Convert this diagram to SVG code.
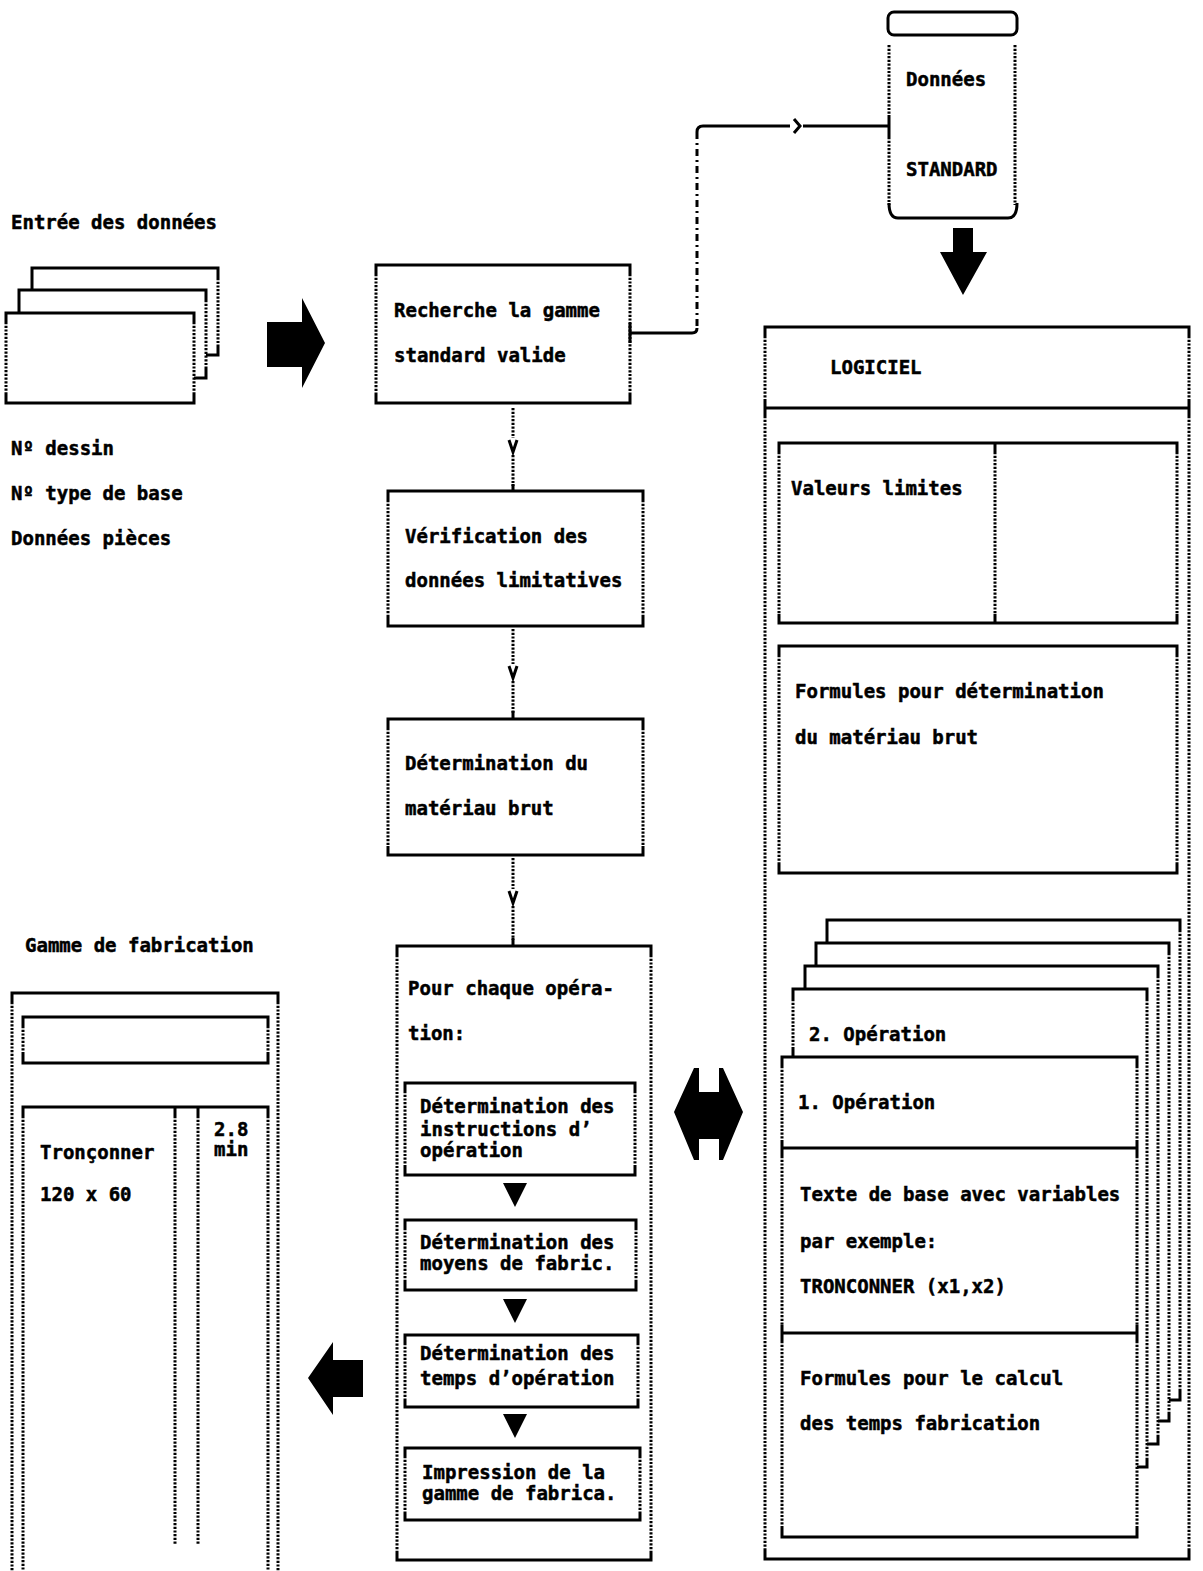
<svg xmlns="http://www.w3.org/2000/svg" width="1203" height="1571" viewBox="0 0 1203 1571">
<style>
.s{fill:none;stroke:#000;stroke-width:3;stroke-linejoin:miter}
.d{fill:none;stroke:#000;stroke-width:3;stroke-dasharray:2.2 1.5}
.dd{fill:none;stroke:#000;stroke-width:3;stroke-dasharray:7 4 2 4}
.f{fill:#000;stroke:none}
text{font-family:"DejaVu Sans Mono","Liberation Mono",monospace;font-weight:bold;font-size:19px;fill:#000;stroke:#000;stroke-width:0.5}
</style>
<rect x="0" y="0" width="1203" height="1571" fill="#fff"/>

<!-- Entrée des données -->
<g id="entree">
  <text x="11" y="229">Entrée des données</text>
  <path class="s" d="M32 290 V268 H218 V278"/>
  <path class="d" d="M218 278 V345"/>
  <path class="s" d="M218 345 V355 H206"/>
  <path class="s" d="M19 313 V290 H206 V300"/>
  <path class="d" d="M206 300 V368"/>
  <path class="s" d="M206 368 V378 H194"/>
  <path class="s" d="M6 322 V313 H194 V322 M6 394 V403 H194 V394"/>
  <path class="d" d="M6 322 V394 M194 322 V394"/>
  <text x="11" y="455">Nº dessin</text>
  <text x="11" y="500">Nº type de base</text>
  <text x="11" y="545">Données pièces</text>
</g>

<g id="arrow-right">
  <path class="f" d="M267 322 H302 V298 L325 343 L302 388 V367 H267 Z"/>
</g>

<!-- Middle column -->
<g id="recherche">
  <path class="s" d="M376 274 V265 H630 V274 M376 394 V403 H630 V394"/>
  <path class="d" d="M376 274 V394 M630 274 V394"/>
  <text x="394" y="317">Recherche la gamme</text>
  <text x="394" y="362">standard valide</text>
</g>
<g id="verification">
  <path class="s" d="M388 500 V491 H643 V500 M388 617 V626 H643 V617"/>
  <path class="d" d="M388 500 V617 M643 500 V617"/>
  <text x="405" y="543">Vérification des</text>
  <text x="405" y="587">données limitatives</text>
</g>
<g id="determination">
  <path class="s" d="M388 728 V719 H643 V728 M388 846 V855 H643 V846"/>
  <path class="d" d="M388 728 V846 M643 728 V846"/>
  <text x="405" y="770">Détermination du</text>
  <text x="405" y="815">matériau brut</text>
</g>
<g id="operation">
  <path class="s" d="M397 955 V946 H651 V955 M397 1551 V1560 H651 V1551"/>
  <path class="d" d="M397 955 V1551 M651 955 V1551"/>
  <text x="408" y="995">Pour chaque opéra-</text>
  <text x="408" y="1040">tion:</text>
  <g id="op-a">
    <path class="s" d="M405 1091 V1083 H635 V1091 M405 1167 V1175 H635 V1167"/>
    <path class="d" d="M405 1091 V1167 M635 1091 V1167"/>
    <text x="420" y="1113">Détermination des</text>
    <text x="420" y="1136">instructions d’</text>
    <text x="420" y="1157">opération</text>
  </g>
  <g id="op-b">
    <path class="s" d="M405 1228 V1220 H636 V1228 M405 1282 V1290 H636 V1282"/>
    <path class="d" d="M405 1228 V1282 M636 1228 V1282"/>
    <text x="420" y="1249">Détermination des</text>
    <text x="420" y="1270">moyens de fabric.</text>
  </g>
  <g id="op-c">
    <path class="s" d="M405 1343 V1335 H638 V1343 M405 1399 V1407 H638 V1399"/>
    <path class="d" d="M405 1343 V1399 M638 1343 V1399"/>
    <text x="420" y="1360">Détermination des</text>
    <text x="420" y="1385">temps d’opération</text>
  </g>
  <g id="op-d">
    <path class="s" d="M405 1456 V1448 H640 V1456 M405 1512 V1520 H640 V1512"/>
    <path class="d" d="M405 1456 V1512 M640 1456 V1512"/>
    <text x="422" y="1479">Impression de la</text>
    <text x="422" y="1500">gamme de fabrica.</text>
  </g>
  <path class="f" d="M503 1183 H527 L515 1207 Z M503 1299 H527 L515 1323 Z M503 1414 H527 L515 1438 Z"/>
</g>

<!-- Données STANDARD -->
<g id="donnees-standard">
  <rect class="s" x="888" y="12" width="129" height="23" rx="6"/>
  <path class="d" d="M889 45 V115 M889 137 V205 M1015 45 V205"/>
  <path class="s" d="M889 203 Q889 218 898 218 H1008 Q1017 218 1017 203"/>
  <text x="906" y="86">Données</text>
  <text x="906" y="176">STANDARD</text>
</g>

<g id="arrow-down">
  <path class="f" d="M953 228 H973 V252 H987 L963 295 L940 252 H953 Z"/>
</g>

<!-- LOGICIEL -->
<g id="logiciel">
  <path class="s" d="M765 336 V327 H1189 V336 M765 1550 V1559 H1189 V1550 M765 400 V416 M1189 400 V416 M765 408 H1189"/>
  <path class="d" d="M765 336 V400 M1189 336 V400 M765 416 V1550 M1189 416 V1550"/>
  <text x="830" y="374">LOGICIEL</text>
  <g id="valeurs">
    <path class="s" d="M779 452 V443 H1177 V452 M779 614 V623 H1177 V614 M995 443 V452 M995 614 V623"/>
    <path class="d" d="M779 452 V614 M1177 452 V614 M995 452 V614"/>
    <text x="791" y="495">Valeurs limites</text>
  </g>
  <g id="formules">
    <path class="s" d="M779 655 V646 H1177 V655 M779 864 V873 H1177 V864"/>
    <path class="d" d="M779 655 V864 M1177 655 V864"/>
    <text x="795" y="698">Formules pour détermination</text>
    <text x="795" y="744">du matériau brut</text>
  </g>
  <g id="cards">
    <path class="s" d="M827 943 V920 H1180 V930"/>
    <path class="d" d="M1180 930 V1390"/>
    <path class="s" d="M1180 1390 V1400 H1169"/>
    <path class="s" d="M816 966 V943 H1169 V953"/>
    <path class="d" d="M1169 953 V1412"/>
    <path class="s" d="M1169 1412 V1421 H1158"/>
    <path class="s" d="M805 989 V966 H1158 V976"/>
    <path class="d" d="M1158 976 V1435"/>
    <path class="s" d="M1158 1435 V1444 H1147"/>
    <path class="s" d="M793 999 V989 H1147 V999 M793 1047 V1057"/>
    <path class="d" d="M793 999 V1047 M1147 999 V1458"/>
    <path class="s" d="M1147 1458 V1467 H1137"/>
    <text x="809" y="1041">2. Opération</text>
  </g>
  <g id="op1">
    <path class="s" d="M782 1066 V1057 H1137 V1066 M782 1528 V1537 H1137 V1528 M782 1140 V1156 M1137 1140 V1156 M782 1148 H1137 M782 1325 V1341 M1137 1325 V1341 M782 1333 H1137"/>
    <path class="d" d="M782 1066 V1140 M1137 1066 V1140 M782 1156 V1325 M1137 1156 V1325 M782 1341 V1528 M1137 1341 V1528"/>
    <text x="798" y="1109">1. Opération</text>
    <text x="800" y="1201">Texte de base avec variables</text>
    <text x="800" y="1248">par exemple:</text>
    <text x="800" y="1293">TRONCONNER (x1,x2)</text>
    <text x="800" y="1385">Formules pour le calcul</text>
    <text x="800" y="1430">des temps fabrication</text>
  </g>
</g>

<g id="arrow-double">
  <path class="f" d="M674 1112 L694 1068 H699 V1092 H719 V1068 H723 L743 1112 L723 1160 H719 V1139 H699 V1160 H694 Z"/>
</g>

<g id="arrow-left">
  <path class="f" d="M308 1378 L333 1342 V1360 H363 V1397 H333 V1415 Z"/>
</g>

<!-- Gamme de fabrication -->
<g id="gamme">
  <text x="25" y="952">Gamme de fabrication</text>
  <path class="s" d="M12 1002 V993 H278 V1002"/>
  <path class="d" d="M12 1002 V1571 M278 1002 V1571"/>
  <path class="s" d="M23 1026 V1017 H268 V1026 M23 1054 V1063 H268 V1054"/>
  <path class="d" d="M23 1026 V1054 M268 1026 V1054"/>
  <path class="s" d="M23 1116 V1107 H268 V1116 M175 1107 V1116 M198 1107 V1116"/>
  <path class="d" d="M23 1116 V1571 M268 1116 V1571 M175 1116 V1545 M198 1116 V1545"/>
  <text x="40" y="1159">Tronçonner</text>
  <text x="40" y="1201">120 x 60</text>
  <text x="214" y="1136">2.8</text>
  <text x="214" y="1156">min</text>
</g>

<!-- Connectors -->
<g id="connectors">
  <path class="d" d="M513 408 V438 M513 455 V486"/>
  <path class="s" d="M509 440 L513 452 L517 440 M513 484 V491"/>
  <path class="d" d="M513 629 V664 M513 681 V713"/>
  <path class="s" d="M509 666 L513 678 L517 666 M513 711 V719"/>
  <path class="d" d="M513 858 V889 M513 906 V940"/>
  <path class="s" d="M509 891 L513 903 L517 891 M513 938 V946"/>
  <path class="s" d="M630 323 V343 M630 333 H692 Q697 333 697 328"/>
  <path class="dd" d="M697 326 V132"/>
  <path class="s" d="M697 132 Q697 126 703 126 H790 M794 119 L800 126 L794 133 M803 126 H889 M889 115 V137"/>
</g>
</svg>
